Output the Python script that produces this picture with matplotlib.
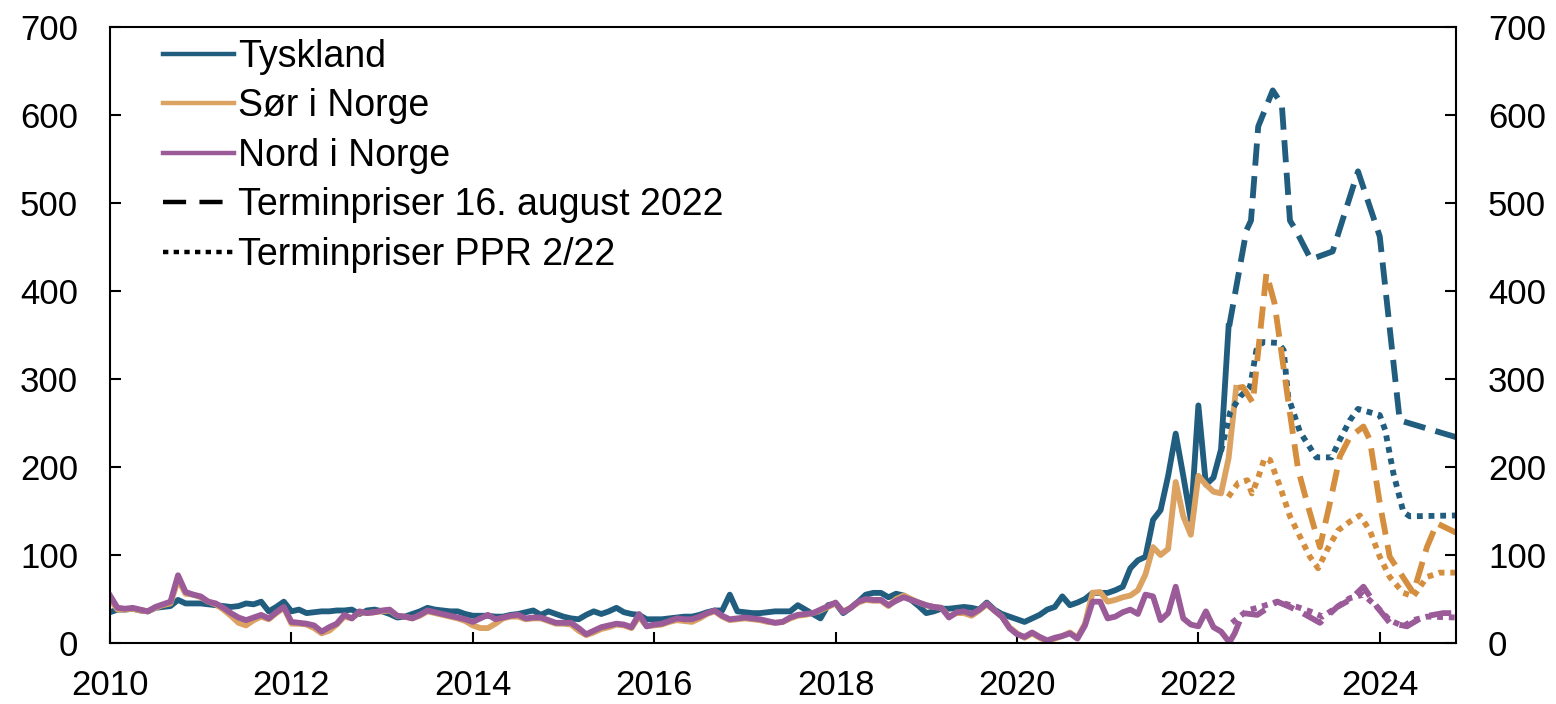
import numpy as np
import matplotlib
matplotlib.use("Agg")
import matplotlib.pyplot as plt
from matplotlib.lines import Line2D

plt.rcParams['font.family'] = ['Liberation Sans', 'DejaVu Sans']

# monthly history from January 2010 (øre/kWh)
start_year = 2010
tyskland = [
    35, 38, 38, 39, 37, 36, 40, 41, 42, 49,
    45, 45, 45, 44, 43, 42, 41, 42, 45, 44,
    47, 36, 41, 47, 36, 38, 34, 35, 36, 36,
    37, 37, 38, 33, 37, 38, 36, 33, 29, 30,
    33, 36, 40, 38, 37, 36, 36, 33, 31, 31,
    31, 30, 30, 32, 33, 35, 37, 32, 36, 33,
    30, 28, 27, 32, 36, 33, 36, 40, 35, 33,
    32, 27, 27, 27, 28, 29, 30, 30, 32, 35,
    37, 37, 55, 36, 35, 34, 34, 35, 36, 36,
    36, 43, 38, 33, 28, 43, 45, 34, 40, 47,
    55, 57, 57, 52, 56, 54, 49, 42, 34, 36,
    39, 39, 40, 41, 40, 38, 46, 38, 33, 30,
    27, 24, 28, 32, 38, 41, 53, 43, 46, 50,
    57, 57, 57, 60, 64, 85, 94, 98, 140, 151,
    190, 238, 190, 140, 270, 180, 188, 220, 360,
]
sor = [
    50, 38, 38, 39, 37, 36, 40, 43, 45, 72,
    56, 55, 52, 47, 44, 38, 31, 23, 20, 26,
    30, 27, 34, 40, 22, 22, 21, 17, 11, 14,
    21, 30, 28, 35, 34, 35, 36, 37, 31, 30,
    28, 31, 36, 34, 32, 30, 28, 25, 20, 17,
    17, 22, 28, 30, 30, 27, 28, 28, 25, 22,
    22, 21, 14, 9, 12, 16, 18, 21, 20, 17,
    30, 19, 20, 21, 24, 26, 25, 24, 28, 33,
    36, 30, 26, 27, 28, 27, 26, 24, 23, 24,
    28, 31, 32, 34, 37, 41, 45, 36, 40, 46,
    49, 48, 48, 42, 50, 54, 50, 46, 43, 41,
    40, 30, 34, 34, 31, 37, 44, 37, 30, 18,
    11, 6, 11, 6, 2, 5, 8, 12, 6, 22,
    57, 58, 47, 49, 52, 54, 60, 78, 109, 100,
    107, 183, 144, 123, 190, 180, 172, 170, 210, 290,
]
nord = [
    54, 40, 39, 40, 38, 36, 41, 44, 47, 77,
    58, 55, 53, 47, 45, 40, 34, 29, 26, 29,
    32, 28, 35, 41, 24, 23, 22, 20, 13, 18,
    22, 32, 28, 36, 34, 35, 37, 38, 31, 30,
    28, 32, 37, 35, 33, 31, 29, 27, 24, 28,
    32, 27, 29, 31, 32, 28, 29, 29, 26, 23,
    23, 23, 17, 10, 14, 18, 20, 22, 21, 18,
    33, 19, 21, 22, 25, 28, 27, 27, 30, 34,
    37, 31, 27, 28, 29, 28, 27, 25, 23, 24,
    29, 32, 33, 34, 38, 42, 46, 35, 40, 47,
    50, 49, 49, 43, 48, 52, 49, 46, 43, 41,
    40, 29, 35, 36, 33, 38, 45, 37, 30, 17,
    10, 7, 12, 7, 3, 6, 8, 11, 5, 20,
    47, 47, 28, 30, 35, 38, 33, 55, 53, 26,
    34, 64, 28, 21, 19, 36, 18, 13, 2,
]

# forward prices 16 August 2022
ty_aug_x = [2022.34, 2022.53, 2022.58, 2022.66, 2022.82, 2022.92, 2023.01, 2023.07,
            2023.24, 2023.48, 2023.76, 2024.00, 2024.22, 2024.84]
ty_aug_y = [360, 469, 480, 587, 628, 612, 480, 470, 436, 445, 536, 462, 253, 234]
sor_aug_x = [2022.44, 2022.49, 2022.60, 2022.75, 2022.79, 2022.84, 2023.01, 2023.10,
             2023.21, 2023.34, 2023.45, 2023.56, 2023.67, 2023.82, 2023.89, 2024.00,
             2024.11, 2024.30, 2024.37, 2024.52, 2024.63, 2024.85]
sor_aug_y = [290, 291, 273, 420, 405, 386, 261, 197, 155, 109, 159, 212, 234, 246,
             231, 159, 98, 68, 57, 109, 136, 125]
nord_aug_x = [2022.35, 2022.40, 2022.49, 2022.65, 2022.87, 2023.01, 2023.15, 2023.34,
              2023.53, 2023.67, 2023.82, 2023.97, 2024.11, 2024.30, 2024.48, 2024.70, 2024.85]
nord_aug_y = [2, 11, 34, 32, 47, 41, 34, 23, 41, 49, 64, 41, 23, 19, 30, 34, 34]

# forward prices PPR 2/22
ty_ppr_x = [2022.25, 2022.35, 2022.46, 2022.57, 2022.64, 2022.71, 2022.88, 2022.94,
            2022.99, 2023.12, 2023.30, 2023.47, 2023.56, 2023.67, 2023.76, 2024.00,
            2024.06, 2024.15, 2024.26, 2024.33, 2024.85]
ty_ppr_y = [218, 262, 280, 291, 333, 342, 341, 333, 280, 240, 211, 211, 231, 253,
            266, 259, 242, 193, 149, 144, 145]
sor_ppr_x = [2022.33, 2022.44, 2022.54, 2022.59, 2022.65, 2022.73, 2022.79, 2022.90,
             2023.01, 2023.12, 2023.23, 2023.32, 2023.42, 2023.54, 2023.67, 2023.78,
             2023.89, 2024.00, 2024.11, 2024.26, 2024.37, 2024.52, 2024.66, 2024.85]
sor_ppr_y = [166, 182, 185, 170, 185, 210, 208, 178, 144, 121, 98, 85, 106, 128,
             138, 145, 128, 98, 75, 57, 53, 75, 80, 80]
nord_ppr_x = [2022.37, 2022.54, 2022.68, 2022.87, 2023.09, 2023.23, 2023.37, 2023.53,
              2023.67, 2023.82, 2023.97, 2024.11, 2024.26, 2024.37, 2024.52, 2024.85]
nord_ppr_y = [23, 37, 41, 47, 41, 36, 30, 41, 51, 55, 41, 26, 19, 26, 30, 29]

blue = '#215d7f'
orange = '#dba262'
orange_fwd = '#d48e3e'
purple = '#9a5b98'

lw = 4.2
dash = (0, (3.8, 1.8))
dot = (0, (1, 1))


def months(series):
    return start_year + np.arange(len(series)) / 12


fig = plt.figure(figsize=(15.56, 7.04), dpi=100)
ax = fig.add_axes([0.0707, 0.0866, 0.865, 0.875])

ax.plot(months(tyskland), tyskland, color=blue, lw=lw)
ax.plot(months(sor), sor, color=orange, lw=lw)
ax.plot(months(nord), nord, color=purple, lw=lw)

ax.plot(ty_ppr_x, ty_ppr_y, color=blue, lw=lw, ls=dot, dash_capstyle='butt')
ax.plot(sor_ppr_x, sor_ppr_y, color=orange_fwd, lw=lw, ls=dot, dash_capstyle='butt')
ax.plot(nord_ppr_x, nord_ppr_y, color=purple, lw=lw, ls=dot, dash_capstyle='butt')

ax.plot(ty_aug_x, ty_aug_y, color=blue, lw=lw, ls=dash)
ax.plot(sor_aug_x, sor_aug_y, color=orange_fwd, lw=lw, ls=dash)
ax.plot(nord_aug_x, nord_aug_y, color=purple, lw=lw, ls=dash)

ax.set_xlim(2010, 2024.84)
ax.set_ylim(0, 700)
ax.set_xticks(range(2010, 2025, 2))
ax.set_yticks(range(0, 701, 100))
ax.tick_params(axis='both', direction='in', labelsize=25, width=1.5, length=8,
               right=True, labelright=True)
ax.tick_params(axis='x', pad=19)
ax.tick_params(axis='y', pad=23)
for s in ax.spines.values():
    s.set_linewidth(1.5)

leg_lw = 3.2
handles = [
    Line2D([], [], color=blue, lw=leg_lw),
    Line2D([], [], color=orange, lw=leg_lw),
    Line2D([], [], color=purple, lw=leg_lw),
    Line2D([], [], color='black', lw=leg_lw, ls=(0, (5.2, 3.0))),
    Line2D([], [], color='black', lw=leg_lw, ls=(0, (1.2, 1.2)), dash_capstyle='butt'),
]
labels = ['Tyskland', 'Sør i Norge', 'Nord i Norge',
          'Terminpriser 16. august 2022', 'Terminpriser PPR 2/22']
ax.legend(handles, labels, loc='upper left', bbox_to_anchor=(0.027, 1.008),
          frameon=False, fontsize=27, handlelength=1.9, handletextpad=0.1,
          labelspacing=0.36, borderaxespad=0.05)

fig.savefig('out.png', dpi=100)
